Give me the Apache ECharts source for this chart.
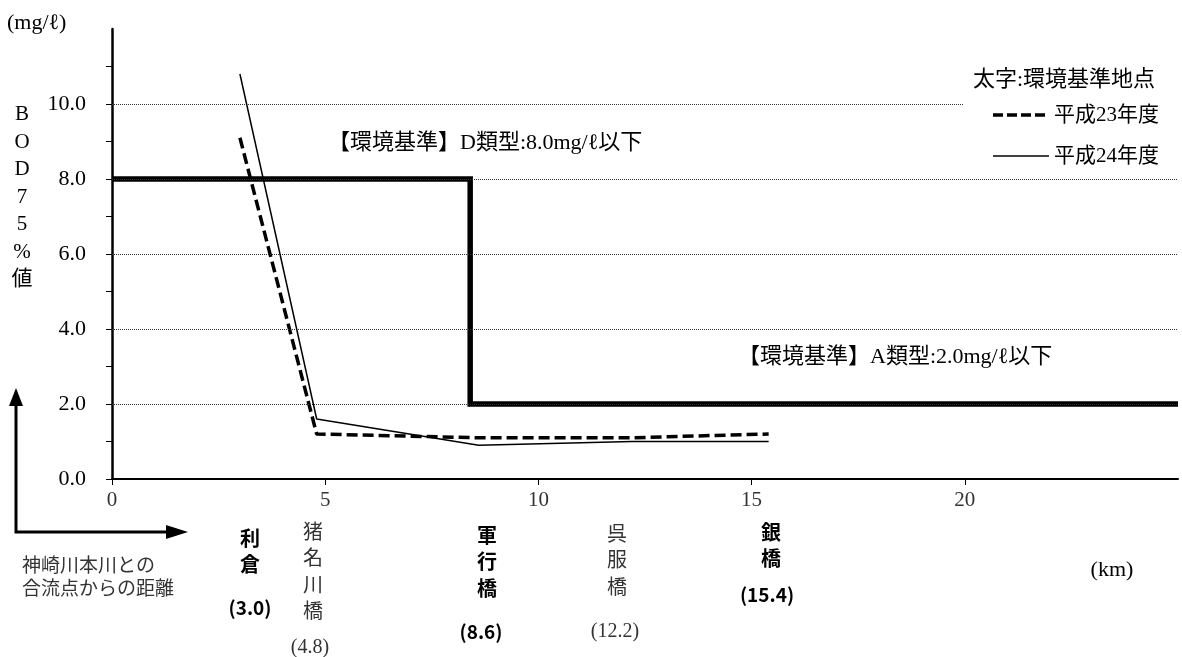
<!DOCTYPE html>
<html><head><meta charset="utf-8">
<script src="https://cdn.jsdelivr.net/npm/echarts@6/dist/echarts.min.js"></script>
<style>html,body{margin:0;padding:0;background:#fff}#c{width:1182px;height:657px}</style>
</head><body><div id="c"></div>
<script>
// ---- data ----
const siteKm = [3.0, 4.8, 8.6, 12.2, 15.4];
const bodH23 = [9.1, 1.2, 1.1, 1.1, 1.2];
const bodH24 = [10.8, 1.6, 0.9, 1.0, 1.0];
const siteNames = ['利倉', '猪名川橋', '軍行橋', '呉服橋', '銀橋'];
const siteIsStandard = [true, false, true, false, true];
const stdKm = [0, 8.4, 8.4, 25];
const stdValue = [8.0, 8.0, 2.0, 2.0];
const yTickValues = [0,1,2,3,4,5,6,7,8,9,10,11];
const yLabelValues = [0,2,4,6,8,10];
const gridValues = [2,4,6,8,10];
const seriesNames = ['平成23年度', '平成24年度'];
const noteD = '【環境基準】D類型:8.0mg/ℓ以下';
const noteA = '【環境基準】A類型:2.0mg/ℓ以下';
const legendTitle = '太字:環境基準地点';
const yTitle = ['B','O','D','7','5','%','値'];
const unitY = '(mg/ℓ)';
const unitX = '(km)';
const xCaption = '神崎川本川との\n合流点からの距離';

// ---- layout (pixel positions of free text) ----
const siteLayout = [
  {x: 250, nameTop: 525, valY: 608},
  {x: 313, nameTop: 520, valY: 648, valX: 310},
  {x: 487, nameTop: 522, valY: 632, valX: 481},
  {x: 617, nameTop: 522, valY: 632, valX: 615},
  {x: 771, nameTop: 519, valY: 595, valX: 767}
];
const SERIF = "'Liberation Serif','Noto Sans CJK JP',serif";
const SANS = "'Noto Sans CJK JP','Noto Sans',sans-serif";

const chart = echarts.init(document.getElementById('c'), null, {renderer: 'canvas'});

const graphics = [];
// white patch hiding the 10.0 gridline behind the legend
graphics.push({type: 'rect', shape: {x: 963, y: 98, width: 219, height: 10}, style: {fill: '#fff'}, z: 50});
// legend
graphics.push({type: 'text', x: 973, y: 80, style: {text: legendTitle, font: "22px " + SERIF, fill: '#000', verticalAlign: 'middle'}, z: 60});
graphics.push({type: 'line', shape: {x1: 993, y1: 115, x2: 1049, y2: 115}, style: {stroke: '#000', lineWidth: 3.5, lineDash: [10, 4]}, z: 60});
graphics.push({type: 'text', x: 1054, y: 115, style: {text: seriesNames[0], font: "21px " + SERIF, fill: '#000', verticalAlign: 'middle'}, z: 60});
graphics.push({type: 'line', shape: {x1: 993, y1: 156, x2: 1049, y2: 156}, style: {stroke: '#000', lineWidth: 1.5}, z: 60});
graphics.push({type: 'text', x: 1054, y: 156, style: {text: seriesNames[1], font: "21px " + SERIF, fill: '#000', verticalAlign: 'middle'}, z: 60});
// standard notes
graphics.push({type: 'text', x: 328, y: 143, style: {text: noteD, font: "22px " + SERIF, fill: '#000', verticalAlign: 'middle'}, z: 60});
graphics.push({type: 'text', x: 738, y: 357, style: {text: noteA, font: "22px " + SERIF, fill: '#000', verticalAlign: 'middle'}, z: 60});
// axis titles
graphics.push({type: 'text', x: 7, y: 23, style: {text: unitY, font: "22px " + SERIF, fill: '#000', verticalAlign: 'middle'}});
graphics.push({type: 'text', x: 22, y: 101, style: {text: yTitle.join('\n'), font: "21px " + SERIF, fill: '#000', align: 'center', verticalAlign: 'top', lineHeight: 27.5}});
graphics.push({type: 'text', x: 1112, y: 570, style: {text: unitX, font: "22px " + SERIF, fill: '#000', align: 'center', verticalAlign: 'middle'}});
graphics.push({type: 'text', x: 22, y: 553, style: {text: xCaption, font: "19px " + SANS, fill: '#333', verticalAlign: 'top', lineHeight: 23}});
// L-shaped arrow
graphics.push({type: 'polyline', shape: {points: [[16, 402], [16, 532], [176, 532]]}, style: {stroke: '#000', lineWidth: 3, fill: null}});
graphics.push({type: 'polygon', shape: {points: [[16, 388], [9, 406], [23, 406]]}, style: {fill: '#000'}});
graphics.push({type: 'polygon', shape: {points: [[188, 532], [166, 525], [166, 539]]}, style: {fill: '#000'}});
// site labels
siteNames.forEach(function (nm, i) {
  const L = siteLayout[i];
  const bold = siteIsStandard[i];
  graphics.push({type: 'text', x: L.x, y: L.nameTop, style: {
    text: nm.split('').join('\n'), align: 'center', verticalAlign: 'top', lineHeight: 26.5,
    font: (bold ? 'bold 20px ' + SANS : '20px ' + SERIF), fill: bold ? '#000' : '#333'}});
  graphics.push({type: 'text', x: (L.valX !== undefined ? L.valX : L.x), y: L.valY, style: {
    text: '(' + siteKm[i].toFixed(1) + ')', align: 'center', verticalAlign: 'middle',
    font: (bold ? 'bold 19px ' + SANS : '20px ' + SERIF), fill: bold ? '#000' : '#333'}});
});

const option = {
  animation: false,
  backgroundColor: '#fff',
  grid: {left: 112, right: 4, top: 29, bottom: 178, containLabel: false},
  xAxis: {
    type: 'value', min: 0, max: 25, interval: 5,
    axisLine: {show: true, onZero: false, lineStyle: {color: '#000', width: 2}},
    axisTick: {show: true, inside: false, length: 6, lineStyle: {color: '#000', width: 1}},
    axisLabel: {show: true, showMaxLabel: false, margin: 11, color: '#333', fontSize: 21, fontFamily: SERIF},
    splitLine: {show: false}
  },
  yAxis: {
    type: 'value', min: 0, max: 12, interval: 2,
    axisLine: {show: true, lineStyle: {color: '#000', width: 2.5}},
    axisTick: {show: true, length: 6, customValues: yTickValues, lineStyle: {color: '#000', width: 1}},
    axisLabel: {show: true, customValues: yLabelValues, margin: 26, color: '#000', fontSize: 22, fontFamily: SERIF,
      formatter: function (v) { return v.toFixed(1); }},
    splitLine: {show: false}
  },
  series: [
    {
      name: 'grid', type: 'line', data: [], z: 1, silent: true,
      markLine: {
        silent: true, symbol: ['none', 'none'], label: {show: false}, animation: false,
        lineStyle: {color: '#333', width: 1, type: [1, 1]},
        emphasis: {disabled: true},
        data: gridValues.map(function (v) { return {yAxis: v}; })
      }
    },
    {
      name: '環境基準', type: 'line', symbol: 'none', z: 3,
      data: stdKm.map(function (k, i) { return [k, stdValue[i]]; }),
      lineStyle: {color: '#000', width: 5.5, cap: 'butt', join: 'miter'}
    },
    {
      name: seriesNames[0], type: 'line', symbol: 'none', z: 4,
      data: siteKm.map(function (k, i) { return [k, bodH23[i]]; }),
      lineStyle: {color: '#000', width: 3.5, type: [11, 5]}
    },
    {
      name: seriesNames[1], type: 'line', symbol: 'none', z: 5,
      data: siteKm.map(function (k, i) { return [k, bodH24[i]]; }),
      lineStyle: {color: '#000', width: 1.5}
    }
  ],
  graphic: graphics
};
chart.setOption(option);
</script></body></html>
